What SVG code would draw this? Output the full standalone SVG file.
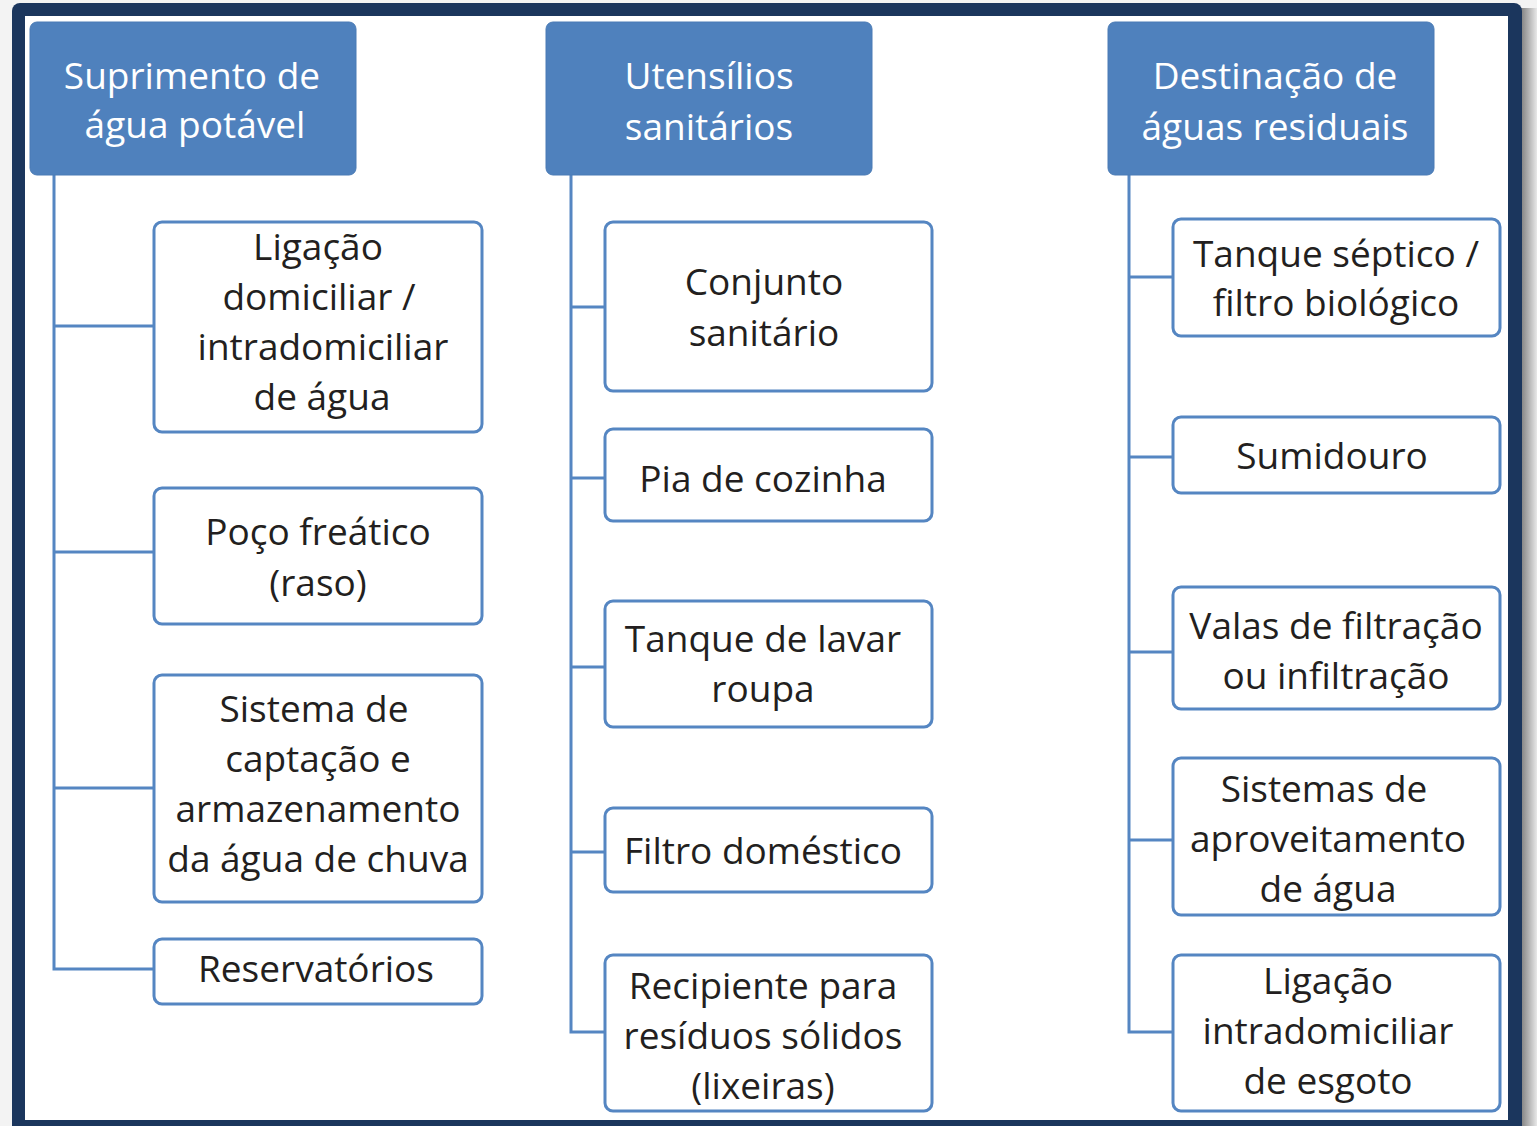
<svg xmlns="http://www.w3.org/2000/svg" width="1537" height="1126" viewBox="0 0 1537 1126">
<defs>
<linearGradient id="sh" x1="0" y1="0" x2="1" y2="0">
<stop offset="0" stop-color="#6e6e6e"/>
<stop offset="1" stop-color="#e8e8e8"/>
</linearGradient>
<style>
.hd{fill:#4f81bd;stroke:#4a7bb5;stroke-width:1}
.bx{fill:#fff;stroke:#5586c2;stroke-width:3}
.ln{fill:none;stroke:#5586c2;stroke-width:3}
.ht{font-family:"Open Sans","Noto Sans",sans-serif;font-size:37px;fill:#fff;text-anchor:middle}
.t{font-family:"Open Sans","Noto Sans",sans-serif;font-size:37px;fill:#231f20;text-anchor:middle}
</style>
</defs>
<rect x="0" y="0" width="1537" height="1126" fill="#f3f3f3"/>
<rect x="1518" y="8" width="19" height="1118" fill="url(#sh)"/>
<rect x="12" y="3" width="1510" height="1140" rx="8" fill="#1b365d"/>
<rect x="25" y="16" width="1483" height="1104" fill="#ffffff"/>

<g id="connectors">
<path class="ln" d="M54 175 V969 H154 M54 326 H154 M54 552 H154 M54 788 H154"/>
<path class="ln" d="M571 175 V1032 H605 M571 307 H605 M571 478 H605 M571 667 H605 M571 852 H605"/>
<path class="ln" d="M1129 175 V1032 H1173 M1129 277 H1173 M1129 457 H1173 M1129 652 H1173 M1129 840 H1173"/>
</g>

<g id="h1"><rect class="hd" x="30" y="22" width="326" height="153" rx="7"/>
<text class="ht" x="192" y="89">Suprimento de</text><text class="ht" x="195" y="138">água potável</text></g>
<g id="h2"><rect class="hd" x="546" y="22" width="326" height="153" rx="7"/>
<text class="ht" x="709" y="89">Utensílios</text><text class="ht" x="709" y="140">sanitários</text></g>
<g id="h3"><rect class="hd" x="1108" y="22" width="326" height="153" rx="7"/>
<text class="ht" x="1275" y="89">Destinação de</text><text class="ht" x="1275" y="140">águas residuais</text></g>

<g id="n1"><rect class="bx" x="154" y="222" width="328" height="210" rx="8"/>
<text class="t" x="318" y="260">Ligação</text><text class="t" x="319" y="310">domiciliar /</text><text class="t" x="323" y="360">intradomiciliar</text><text class="t" x="322" y="410">de água</text></g>
<g id="n2"><rect class="bx" x="154" y="488" width="328" height="136" rx="8"/>
<text class="t" x="318" y="545">Poço freático</text><text class="t" x="318" y="596">(raso)</text></g>
<g id="n3"><rect class="bx" x="154" y="675" width="328" height="227" rx="8"/>
<text class="t" x="314" y="722">Sistema de</text><text class="t" x="318" y="772">captação e</text><text class="t" x="318" y="822">armazenamento</text><text class="t" x="318" y="872">da água de chuva</text></g>
<g id="n4"><rect class="bx" x="154" y="939" width="328" height="65" rx="8"/>
<text class="t" x="316" y="982">Reservatórios</text></g>

<g id="n5"><rect class="bx" x="605" y="222" width="327" height="169" rx="8"/>
<text class="t" x="764" y="295">Conjunto</text><text class="t" x="764" y="346">sanitário</text></g>
<g id="n6"><rect class="bx" x="605" y="429" width="327" height="92" rx="8"/>
<text class="t" x="763" y="492">Pia de cozinha</text></g>
<g id="n7"><rect class="bx" x="605" y="601" width="327" height="126" rx="8"/>
<text class="t" x="763" y="652">Tanque de lavar</text><text class="t" x="763" y="702">roupa</text></g>
<g id="n8"><rect class="bx" x="605" y="808" width="327" height="84" rx="8"/>
<text class="t" x="763" y="864">Filtro doméstico</text></g>
<g id="n9"><rect class="bx" x="605" y="955" width="327" height="156" rx="8"/>
<text class="t" x="763" y="999">Recipiente para</text><text class="t" x="763" y="1049">resíduos sólidos</text><text class="t" x="763" y="1099">(lixeiras)</text></g>

<g id="n10"><rect class="bx" x="1173" y="219" width="327" height="117" rx="8"/>
<text class="t" x="1336" y="267">Tanque séptico /</text><text class="t" x="1336" y="316">filtro biológico</text></g>
<g id="n11"><rect class="bx" x="1173" y="417" width="327" height="76" rx="8"/>
<text class="t" x="1332" y="469">Sumidouro</text></g>
<g id="n12"><rect class="bx" x="1173" y="587" width="327" height="122" rx="8"/>
<text class="t" x="1336" y="639">Valas de filtração</text><text class="t" x="1336" y="689">ou infiltração</text></g>
<g id="n13"><rect class="bx" x="1173" y="758" width="327" height="157" rx="8"/>
<text class="t" x="1324" y="802">Sistemas de</text><text class="t" x="1328" y="852">aproveitamento</text><text class="t" x="1328" y="902">de água</text></g>
<g id="n14"><rect class="bx" x="1173" y="955" width="327" height="156" rx="8"/>
<text class="t" x="1328" y="994">Ligação</text><text class="t" x="1328" y="1044">intradomiciliar</text><text class="t" x="1328" y="1094">de esgoto</text></g>
</svg>
